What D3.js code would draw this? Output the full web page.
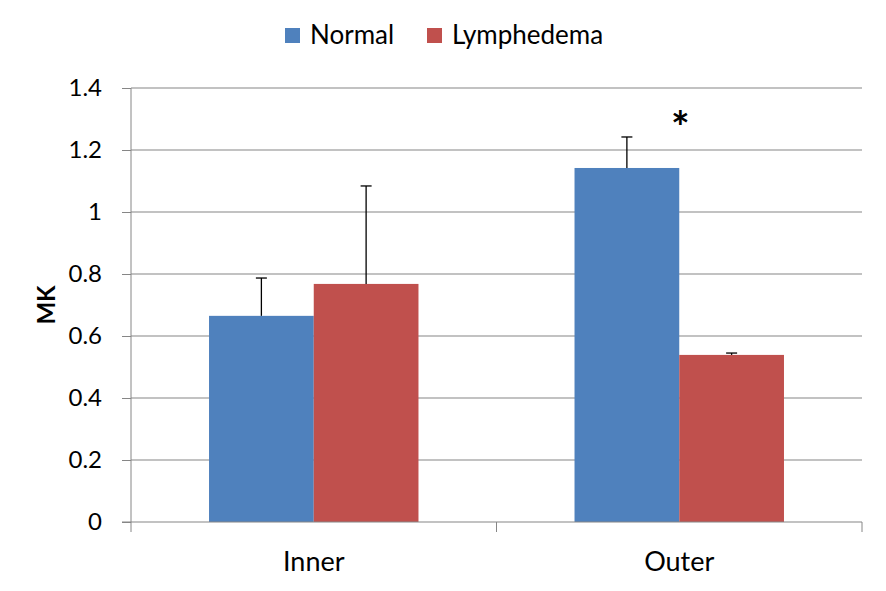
<!DOCTYPE html>
<html>
<head>
<meta charset="utf-8">
<script src="https://cdn.jsdelivr.net/npm/d3@7"></script>
<style>
  body { margin: 0; background: #fff; }
  text { font-family: Lato, "Open Sans", sans-serif; fill: #000; }
</style>
</head>
<body>
<svg id="chart" width="886" height="591"></svg>
<script>
const categories = ["Inner", "Outer"];
const seriesNames = ["Normal", "Lymphedema"];
const normalValues = [0.665, 1.142];
const normalErrors = [0.122, 0.100];
const lymphValues  = [0.768, 0.539];
const lymphErrors  = [0.316, 0.006];
const yTicks = [0, 0.2, 0.4, 0.6, 0.8, 1, 1.2, 1.4];
const colors = ["#4F81BD", "#C0504D"];

const svg = d3.select("#chart");
const plotL = 131, plotR = 862, plotT = 88, plotB = 522;

const x = d3.scaleBand().domain(categories).range([plotL, plotR]).paddingInner(0).paddingOuter(0);
const xSub = d3.scaleBand().domain(seriesNames).range([0, x.bandwidth()]).paddingInner(0).paddingOuter(0.745);
const y = d3.scaleLinear().domain([0, 1.4]).range([plotB, plotT]);

const rows = categories.map((c, i) => ({
  cat: c,
  bars: [
    { s: seriesNames[0], v: normalValues[i], e: normalErrors[i] },
    { s: seriesNames[1], v: lymphValues[i],  e: lymphErrors[i] }
  ]
}));

// gridlines
svg.append("g")
  .selectAll("line").data(yTicks.filter(d => d > 0)).join("line")
  .attr("x1", plotL).attr("x2", plotR)
  .attr("y1", d => y(d)).attr("y2", d => y(d))
  .attr("stroke", "#868686").attr("stroke-width", 1.2);

// y axis
const yAxis = svg.append("g").attr("transform", `translate(${plotL},0)`)
  .call(d3.axisLeft(y).tickValues(yTicks).tickSize(9).tickPadding(20).tickFormat(d3.format("")));
yAxis.select(".domain").attr("stroke", "#868686").attr("d", `M0,${plotT}V${plotB}`);
yAxis.selectAll(".tick line").attr("stroke", "#868686");
yAxis.selectAll(".tick text").attr("font-size", 24).style("font-family", "Lato, 'Open Sans', sans-serif");

// bars
const groups = svg.append("g").selectAll("g").data(rows).join("g")
  .attr("transform", d => `translate(${x(d.cat)},0)`);
groups.selectAll("rect").data(d => d.bars).join("rect")
  .attr("x", d => xSub(d.s)).attr("width", xSub.bandwidth())
  .attr("y", d => y(d.v)).attr("height", d => y(0) - y(d.v))
  .attr("fill", (d, i) => colors[i]);

// error bars
const eb = groups.selectAll("g.err").data(d => d.bars).join("g").attr("class", "err");
eb.append("line")
  .attr("x1", d => xSub(d.s) + xSub.bandwidth() / 2).attr("x2", d => xSub(d.s) + xSub.bandwidth() / 2)
  .attr("y1", d => y(d.v)).attr("y2", d => y(d.v + d.e))
  .attr("stroke", "#000").attr("stroke-width", 1.3);
eb.append("line")
  .attr("x1", d => xSub(d.s) + xSub.bandwidth() / 2 - 5.5).attr("x2", d => xSub(d.s) + xSub.bandwidth() / 2 + 5.5)
  .attr("y1", d => y(d.v + d.e)).attr("y2", d => y(d.v + d.e))
  .attr("stroke", "#000").attr("stroke-width", 1.3);

// x axis
svg.append("line").attr("x1", plotL - 9).attr("x2", plotR).attr("y1", plotB).attr("y2", plotB)
  .attr("stroke", "#868686").attr("stroke-width", 1.2);
svg.append("g").selectAll("line").data([...categories.map(c => x(c)), plotR]).join("line")
  .attr("x1", d => d).attr("x2", d => d).attr("y1", plotB).attr("y2", plotB + 10)
  .attr("stroke", "#868686");
svg.append("g").selectAll("text").data(categories).join("text")
  .attr("x", d => x(d) + x.bandwidth() / 2).attr("y", 571)
  .attr("text-anchor", "middle").attr("font-size", 27).text(d => d);

// significance asterisk over Outer Normal
svg.append("text")
  .attr("x", x("Outer") + xSub("Normal") + xSub.bandwidth() + 1).attr("y", 143)
  .attr("text-anchor", "middle").attr("font-size", 44).attr("font-weight", "bold").text("*");

// y label
svg.append("text")
  .attr("transform", "translate(55,305) rotate(-90)")
  .attr("text-anchor", "middle").attr("font-size", 24).attr("font-weight", "bold").text("MK");

// legend
const legend = svg.append("g");
const legendX = [285, 427];
seriesNames.forEach((s, i) => {
  legend.append("rect").attr("x", legendX[i]).attr("y", 28).attr("width", 15).attr("height", 15).attr("fill", colors[i]);
  legend.append("text").attr("x", legendX[i] + 25).attr("y", 44).attr("font-size", 26).text(s);
});
</script>
</body>
</html>
